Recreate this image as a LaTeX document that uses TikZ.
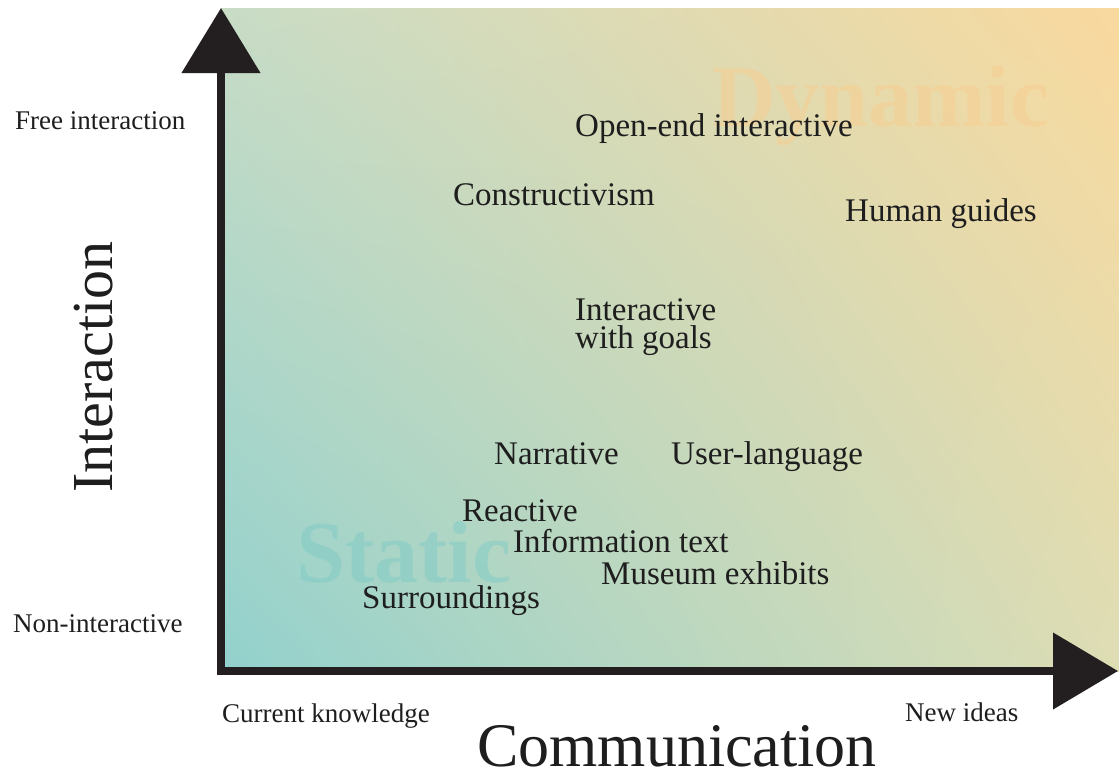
\documentclass[tikz,border=0pt]{standalone}
\usepackage{fontspec}
\setmainfont{Liberation Serif}
\usetikzlibrary{arrows.meta,shadings}

\definecolor{axisink}{HTML}{231F20}
\definecolor{textink}{HTML}{1E1E1E}
\definecolor{shadeLL}{HTML}{92D1CD}
\definecolor{shadeUL}{HTML}{C8DCC6}
\definecolor{shadeLR}{HTML}{DEDDB4}
\definecolor{shadeUR}{HTML}{F9D99E}
\definecolor{staticink}{HTML}{7FCBC5}
\definecolor{dynamicink}{HTML}{F6CF92}

\begin{document}
\begin{tikzpicture}[x=1pt,y=-1pt,
  item/.style={anchor=base west, inner sep=0pt, text=textink,
    font=\fontsize{33}{28}\selectfont},
  endlabel/.style={anchor=base west, inner sep=0pt, text=textink,
    font=\fontsize{27}{30}\selectfont},
  axistitle/.style={anchor=base, inner sep=0pt, text=textink},
  watermark/.style={anchor=base west, inner sep=0pt,
    font=\bfseries\fontsize{88}{90}\selectfont},
  axisline/.style={draw=axisink, line width=8pt, line join=miter,
    {Triangle[width=77pt,length=65pt]}-{Triangle[width=75pt,length=65pt]}}
]
\useasboundingbox (0,0) rectangle (1119,771);
\fill[white] (0,0) rectangle (1119,771);

% coloured field between the axes
\shade[upper left=shadeUL, upper right=shadeUR,
       lower left=shadeLL, lower right=shadeLR]
  (221,8) rectangle (1119,671);

% faded region words
\node[watermark, text=staticink, text opacity=0.5] (static) at (296,582) {Static};
\node[watermark, text=dynamicink, text opacity=0.55] (dynamic) at (712,126) {Dynamic};

% axes
\coordinate (ytip) at (221,8);
\coordinate (origin) at (221,671);
\coordinate (xtip) at (1118,671);
\draw[axisline] (ytip) -- (origin) -- (xtip);

% axis end labels
\node[endlabel] (free) at (15,129) {Free interaction};
\node[endlabel] (nonint) at (13,632) {Non-interactive};
\node[endlabel] (current) at (222,722) {Current knowledge};
\node[endlabel] (newideas) at (905,721) {New ideas};

% axis titles
\node[axistitle, rotate=90, font=\fontsize{58}{60}\selectfont] (ytitle) at (112,367) {Interaction};
\node[axistitle, font=\fontsize{62}{64}\selectfont] (xtitle) at (677,766) {Communication};

% placed items
\node[item] (openend) at (575,136) {Open-end interactive};
\node[item] (construct) at (453,205) {Constructivism};
\node[item] (human) at (845,221) {Human guides};
\node[item, anchor=north west, align=left] (goals) at (575,298) {Interactive\\with goals};
\node[item] (narrative) at (494,464) {Narrative};
\node[item] (userlang) at (671,464) {User-language};
\node[item] (reactive) at (462,521) {Reactive};
\node[item] (infotext) at (513,552) {Information text};
\node[item] (museum) at (601,584) {Museum exhibits};
\node[item] (surround) at (362,608) {Surroundings};
\end{tikzpicture}
\end{document}
